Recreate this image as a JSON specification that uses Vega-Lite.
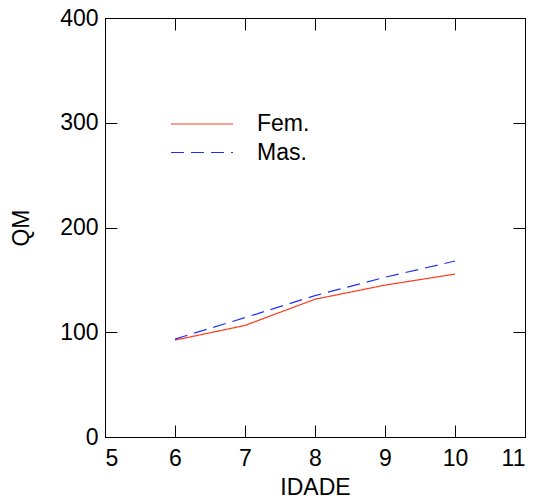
{
  "$schema": "https://vega.github.io/schema/vega-lite/v6.json",
  "width": 420,
  "height": 419,
  "autosize": {"type": "none"},
  "padding": {"left": 105, "top": 18, "right": 13, "bottom": 62},
  "background": "white",
  "config": {
    "view": {"stroke": null},
    "font": "Liberation Sans",
    "axis": {
      "grid": false,
      "domainColor": "black",
      "domainWidth": 1,
      "tickColor": "black",
      "tickWidth": 1,
      "tickSize": -12,
      "labelFont": "Liberation Sans",
      "labelFontSize": 23,
      "labelColor": "black",
      "titleFont": "Liberation Sans",
      "titleFontSize": 23,
      "titleFontWeight": "normal",
      "titleColor": "black"
    },
    "legend": {
      "orient": "none",
      "legendX": 65,
      "legendY": 95,
      "symbolType": "stroke",
      "symbolSize": 3844,
      "symbolStrokeWidth": 1.2,
      "clipHeight": 22,
      "labelFont": "Liberation Sans",
      "labelFontSize": 23,
      "labelColor": "black",
      "labelOffset": 23,
      "rowPadding": 5.5,
      "title": null
    }
  },
  "data": {
    "values": [
      {"IDADE": 6, "QM": 92.5, "Sexo": "Fem."},
      {"IDADE": 7, "QM": 106.5, "Sexo": "Fem."},
      {"IDADE": 8, "QM": 131.5, "Sexo": "Fem."},
      {"IDADE": 9, "QM": 145, "Sexo": "Fem."},
      {"IDADE": 10, "QM": 155.5, "Sexo": "Fem."},
      {"IDADE": 6, "QM": 93.5, "Sexo": "Mas."},
      {"IDADE": 7, "QM": 114, "Sexo": "Mas."},
      {"IDADE": 8, "QM": 135, "Sexo": "Mas."},
      {"IDADE": 9, "QM": 152.5, "Sexo": "Mas."},
      {"IDADE": 10, "QM": 168, "Sexo": "Mas."}
    ]
  },
  "layer": [
    {
      "mark": {"type": "line", "strokeWidth": 1.2, "clip": true},
      "encoding": {
        "x": {
          "field": "IDADE", "type": "quantitative",
          "scale": {"domain": [5, 11], "nice": false},
          "axis": {"values": [5, 6, 7, 8, 9, 10, 11], "title": "IDADE", "labelPadding": 22, "titlePadding": 6}
        },
        "y": {
          "field": "QM", "type": "quantitative",
          "scale": {"domain": [0, 400], "nice": false},
          "axis": {"values": [0, 100, 200, 300, 400], "title": "QM", "labelPadding": 19, "titlePadding": 26}
        },
        "color": {
          "field": "Sexo", "type": "nominal",
          "scale": {"domain": ["Fem.", "Mas."], "range": ["#ff3a1a", "#1f2fff"]}
        },
        "strokeDash": {
          "field": "Sexo", "type": "nominal",
          "scale": {"domain": ["Fem.", "Mas."], "range": [[1, 0], [13, 7]]}
        }
      }
    },
    {
      "mark": {"type": "line", "opacity": 0},
      "encoding": {
        "x": {
          "field": "IDADE", "type": "quantitative",
          "scale": {"domain": [5, 11], "nice": false},
          "axis": {"orient": "top", "values": [5, 6, 7, 8, 9, 10, 11], "labels": false, "title": null}
        },
        "y": {
          "field": "QM", "type": "quantitative",
          "scale": {"domain": [0, 400], "nice": false},
          "axis": {"orient": "right", "values": [0, 100, 200, 300, 400], "labels": false, "title": null}
        }
      }
    }
  ],
  "resolve": {"axis": {"x": "independent", "y": "independent"}}
}
